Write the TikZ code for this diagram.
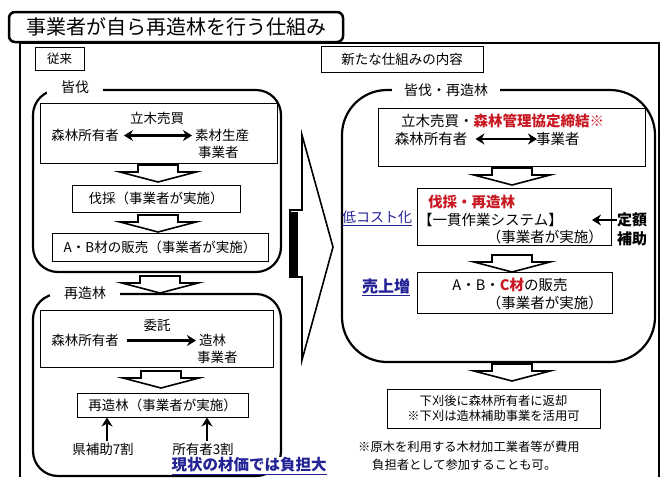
\documentclass[tikz,border=0pt]{standalone}
\usepackage{fontspec}
\setmainfont{Noto Sans CJK JP}
\usetikzlibrary{arrows.meta,calc}
\definecolor{redtxt}{RGB}{200,25,35}
\definecolor{bluetxt}{RGB}{35,35,150}
\tikzset{
 frameline/.style={line width=1.2pt},
 roundbox/.style={line width=2.2pt, rounded corners=25pt},
 plainbox/.style={draw, line width=0.9pt, inner sep=0pt},
 txt/.style={inner sep=0pt, font=\fontsize{13.5}{16}\selectfont},
 rtxt/.style={inner sep=0pt, font=\fontsize{14.5}{17}\selectfont},
 smalltxt/.style={inner sep=0pt, font=\fontsize{12.3}{15}\selectfont},
 lbl/.style={fill=white, inner sep=0pt, minimum height=14pt, font=\fontsize{14}{16}\selectfont},
 thickarrow/.style={line width=2.4pt, -{Stealth[length=9pt,width=11pt]}},
 dblarrow/.style={line width=2.4pt, {Stealth[length=9pt,width=11pt]}-{Stealth[length=9pt,width=11pt]}},
 hollow/.style={draw, fill=white, line width=1.6pt, line join=miter},
 pics/downarr/.style={code={\draw[hollow] (-20,0)--(20,0)--(20,7)--(38,7)--(0,17)--(-38,7)--(-20,7)--cycle;}},
}
\begin{document}
\begin{tikzpicture}[x=1pt,y=-1pt]
\useasboundingbox[fill=white] (0,0) rectangle (661,477);
% outer frame
\draw[frameline] (20,477) -- (20,43) -- (659,43) -- (659,477);
% title
\node[draw, fill=white, line width=2.5pt, rounded corners=6pt, minimum width=334pt, minimum height=30pt, inner sep=0pt,
      font=\fontsize{20}{22}\selectfont] (title) at (176,27) {事業者が自ら再造林を行う仕組み};
% header boxes
\node[plainbox, minimum width=49pt, minimum height=23pt, font=\fontsize{12.5}{14}\selectfont] (old) at (59.5,58.5) {従来};
\node[plainbox, minimum width=162pt, minimum height=26pt, font=\fontsize{13.5}{15}\selectfont] (new) at (402,59) {新たな仕組みの内容};

% ===== left top: 皆伐 =====
\draw[roundbox] (33,90) rectangle (281,272);
\node[lbl, minimum width=56pt] (lbA) at (75,87) {皆伐};
\node[plainbox, minimum width=237pt, minimum height=60pt] (b1) at (158.5,133) {};
\node[txt] (b1t) at (157,118) {立木売買};
\node[txt] (b1own) at (85,135.5) {森林所有者};
\node[txt, anchor=west] (b1prod) at (195,135.5) {素材生産};
\node[txt, anchor=west] (b1biz) at (198,152.5) {事業者};
\draw[dblarrow] ($(b1own.east)+(5,0)$) -- ($(b1prod.west)+(-3,0)$);
\pic at (158,165) {downarr};
\node[plainbox, minimum width=168pt, minimum height=27pt, txt] (b2) at (156,198.5) {伐採（事業者が実施）};
\pic at (158,215) {downarr};
\node[plainbox, minimum width=216pt, minimum height=28pt, txt] (b3) at (160,247) {A・B材の販売（事業者が実施）};
\pic at (160,276) {downarr};

% ===== left bottom: 再造林 =====
\draw[roundbox] (33,294) rectangle (281,476);
\node[lbl, minimum width=70pt] (lbB) at (85,293) {再造林};
\node[plainbox, minimum width=233pt, minimum height=57pt] (b4) at (156.5,338.5) {};
\node[txt] (b4t) at (157,325) {委託};
\node[txt] (b4own) at (85,340.5) {森林所有者};
\node[txt, anchor=west] (b4z) at (199,340.5) {造林};
\node[txt, anchor=west] (b4biz) at (197,357.5) {事業者};
\draw[thickarrow] ($(b4own.east)+(8,0)$) -- ($(b4z.west)+(-3,0)$);
\pic at (161,371) {downarr};
\node[plainbox, minimum width=171pt, minimum height=24pt, txt] (b5) at (162.5,405) {再造林（事業者が実施）};
\node[txt] (sub1) at (103,449) {県補助7割};
\node[txt] (sub2) at (203,449) {所有者3割};
\draw[thickarrow] ($(sub1.north)+(4,-2)$) coordinate (u1) -- (u1 |- b5.south);
\draw[thickarrow] ($(sub2.north)+(4,-2)$) coordinate (u2) -- (u2 |- b5.south);
\node[fill=white, inner sep=1pt, text=bluetxt, font=\bfseries\fontsize{15.5}{17}\selectfont] (burden) at (249,466) {\underline{現状の材価では負担大}};

% ===== middle chevron =====
\draw[line width=1.6pt, fill=white, line join=miter] (302,135) -- (333,247) -- (302,360) -- (302,277) -- (290,277) -- (290,210) -- (302,210) -- cycle;
\fill (290,212) rectangle (298,277);

% ===== right: 皆伐・再造林 =====
\draw[roundbox, rounded corners=45pt] (342,90) rectangle (655,362);
\node[lbl, minimum width=108pt] (lbC) at (446,90) {皆伐・再造林};
\node[plainbox, minimum width=267pt, minimum height=58pt] (r1) at (511.5,137) {};
\node[rtxt, anchor=west] (r1t) at (401,121) {立木売買・\textcolor{redtxt}{\bfseries 森林管理協定締結※}};
\node[rtxt] (r1own) at (431,139) {森林所有者};
\node[rtxt, anchor=west] (r1biz) at (536,139) {事業者};
\draw[dblarrow] ($(r1own.east)+(8,0)$) -- ($(r1biz.west)+(1,0)$);
\pic at (512,168) {downarr};
\node[plainbox, minimum width=194pt, minimum height=57pt] (r2) at (514,216.5) {};
\node[rtxt, anchor=west, text=redtxt, font=\bfseries\fontsize{14.5}{17}\selectfont] (r2a) at (428,202) {伐採・再造林};
\node[rtxt, anchor=west] (r2b) at (418,219.5) {【一貫作業システム】};
\node[rtxt, anchor=east] (r2c) at (603,236.5) {（事業者が実施）};
\node[inner sep=0pt, text=bluetxt, font=\fontsize{14}{16}\selectfont] (lowcost) at (377,218) {\underline{低コスト化}};
\node[inner sep=0pt, anchor=west, font=\bfseries\fontsize{15}{17}\selectfont] (teigaku) at (617,220) {定額};
\node[inner sep=0pt, anchor=west, font=\bfseries\fontsize{15}{17}\selectfont] (hojo) at (617,239) {補助};
\draw[thickarrow] (teigaku.west) -- ++(-25,0);
\pic at (512,255) {downarr};
\node[plainbox, minimum width=195pt, minimum height=41pt] (r3) at (514.5,292.5) {};
\node[rtxt] (r3a) at (510,285) {A・B・\textcolor{redtxt}{\bfseries C材}の販売};
\node[rtxt, anchor=east] (r3b) at (603,303) {（事業者が実施）};
\node[inner sep=0pt, text=bluetxt, font=\bfseries\fontsize{16}{18}\selectfont] (uriage) at (386,287) {\underline{売上増}};
\pic at (512,364) {downarr};
\node[plainbox, minimum width=213pt, minimum height=39pt, smalltxt, align=center] (r4) at (493.5,408.5) {下刈後に森林所有者に返却\\※下刈は造林補助事業を活用可};
\node[smalltxt, anchor=west] (note1) at (358,447) {※原木を利用する木材加工業者等が費用};
\node[smalltxt, anchor=west] (note2) at (372,465) {負担者として参加することも可。};
\end{tikzpicture}
\end{document}
